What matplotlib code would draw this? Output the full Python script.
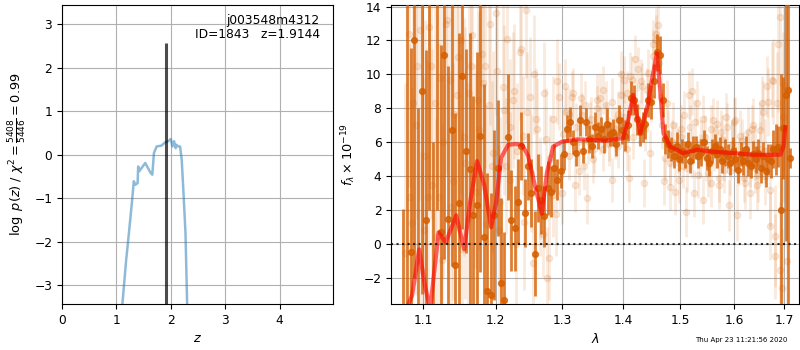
import matplotlib
matplotlib.use("Agg")
import matplotlib.pyplot as plt
from matplotlib.ticker import NullLocator

# ---------------- left panel: p(z) ----------------
z_grid = [1.11, 1.18, 1.23, 1.29, 1.32, 1.35, 1.39, 1.40, 1.42, 1.53, 1.63, 1.66,
          1.69, 1.74, 1.83, 1.89, 1.95, 2.00, 2.03, 2.06, 2.09, 2.10, 2.14, 2.17,
          2.20, 2.23, 2.27, 2.30]
log_pz = [-3.43, -2.41, -1.80, -1.03, -0.61, -0.69, -0.65, -0.27, -0.38, -0.19, -0.42, -0.46,
          0.04, 0.19, 0.21, 0.28, 0.31, 0.36, 0.19, 0.31, 0.15, 0.23, 0.19, 0.19,
          -0.11, -0.80, -1.80, -3.43]
z_best = 1.9144
z_line_top = 2.56
obj_name = "j003548m4312"
obj_id = 1843
chi2_num, chi2_den, chi2_ratio = 5408, 5446, 0.99

# ---------------- right panel: spectrum ----------------
lam_dark = [1.073, 1.078, 1.083, 1.088, 1.093, 1.098, 1.103, 1.108, 1.113, 1.118,
            1.123, 1.128, 1.133, 1.138, 1.143, 1.148, 1.153, 1.158, 1.163, 1.168,
            1.173, 1.178, 1.183, 1.188, 1.193, 1.198, 1.203, 1.208, 1.213, 1.218,
            1.223, 1.228, 1.233, 1.238, 1.243, 1.248, 1.253, 1.258, 1.263, 1.268,
            1.273, 1.278, 1.283, 1.288, 1.293, 1.298,
            1.303, 1.308, 1.313, 1.318, 1.323, 1.328, 1.333, 1.338, 1.343, 1.348,
            1.353, 1.358, 1.363, 1.368, 1.373, 1.378, 1.383, 1.388, 1.393, 1.398,
            1.403, 1.408, 1.413, 1.418, 1.423, 1.428, 1.433, 1.438, 1.443, 1.448,
            1.453, 1.458, 1.463, 1.468, 1.473,
            1.478, 1.483, 1.488, 1.493, 1.498, 1.503, 1.508, 1.513, 1.518, 1.523,
            1.528, 1.533, 1.538, 1.543, 1.548, 1.553, 1.558, 1.563, 1.568, 1.573,
            1.578, 1.583, 1.588, 1.593, 1.598, 1.603, 1.608, 1.613, 1.618, 1.623,
            1.628, 1.633, 1.638, 1.643, 1.648, 1.653, 1.658, 1.663, 1.668, 1.673,
            1.678,
            1.683, 1.688, 1.693, 1.698, 1.703, 1.708, 1.713]
flux_dark = [-6.0, -9.0, -0.45, 12.0, -7.0, 9.05, 1.44, 16.0, -5.0, 18.0,
             0.75, 11.15, 1.48, 6.74, -1.25, 2.42, 9.9, 5.5, 4.42, 1.72,
             2.32, 6.38, 0.42, -2.78, -2.97, 1.74, 4.5, -2.26, -3.26, 6.3,
             1.4, 0.95, 2.5, 5.8, 1.83, 4.58, 3.0, -0.56, 3.3, 2.6,
             1.64, 3.3, 3.1, 4.48, 3.8, 4.3,
             5.3, 6.8, 7.2, 6.0, 5.4, 7.3, 5.5, 7.2, 6.2, 5.8,
             6.9, 6.4, 6.8, 6.2, 7.1, 6.5, 6.6, 5.9, 7.3, 6.7,
             6.4, 7.0, 8.6, 8.5, 7.35, 6.6, 6.9, 7.1, 8.5, 8.4,
             9.6, 11.3, 11.15, 8.5, 6.2,
             5.9, 5.6, 5.2, 5.8, 5.0, 5.5, 5.3, 5.9, 4.9, 5.6,
             5.7, 5.2, 5.4, 6.0, 5.1, 4.8, 5.5, 5.8, 5.3, 5.6,
             4.9, 5.4, 5.2, 4.8, 5.5, 5.0, 4.4, 5.3, 4.9, 5.6,
             4.8, 4.6, 5.3, 5.0, 5.4, 4.5, 5.2, 4.3, 5.0, 4.9,
             5.6,
             5.6, 5.75, 2.0, 6.87, 8.8, 9.1, 5.07]
err_dark = [8.1, 25.0, 12.0, 14.0, 15.0, 12.0, 10.0, 14.0, 11.0, 16.0,
            11.0, 12.0, 9.0, 8.0, 9.0, 10.0, 9.0, 6.0, 8.0, 7.0,
            9.0, 8.0, 9.0, 7.0, 6.0, 5.0, 4.0, 5.0, 4.0, 3.7,
            3.0, 2.5, 2.5, 2.0, 2.0, 2.0, 2.0, 2.5, 2.0, 2.0,
            1.8, 1.6, 1.5, 1.4, 1.2, 1.0,
            0.9, 0.8, 0.9, 0.7, 0.8, 0.9, 0.7, 0.8, 0.8, 0.7,
            0.9, 0.8, 0.7, 0.8, 0.9, 0.7, 0.8, 0.7, 0.9, 0.8,
            0.9, 0.9, 1.0, 0.9, 0.9, 0.8, 0.9, 0.9, 1.0, 1.0,
            1.0, 1.1, 1.1, 1.0, 0.9,
            0.8, 0.7, 0.7, 0.8, 0.7, 0.7, 0.8, 0.7, 0.7, 0.8,
            0.7, 0.7, 0.8, 0.7, 0.7, 0.8, 0.7, 0.7, 0.8, 0.7,
            0.7, 0.8, 0.7, 0.7, 0.8, 0.7, 0.8, 0.7, 0.8, 0.8,
            0.8, 0.7, 0.8, 0.8, 0.8, 0.9, 0.8, 0.9, 0.9, 1.0,
            1.1,
            1.5, 1.2, 8.0, 3.0, 8.6, 13.0, 0.6]

# first light (unbinned) set
lam_light = [1.0755, 1.0805, 1.0855, 1.0905, 1.0955, 1.1005, 1.1055, 1.1105, 1.1155, 1.1205,
             1.1255, 1.1305, 1.1355, 1.1405, 1.1455, 1.1505, 1.1555, 1.1605, 1.1655, 1.1705,
             1.1755, 1.1805, 1.1855, 1.1905, 1.1955, 1.2005, 1.2055, 1.2105, 1.2155, 1.2205,
             1.2255, 1.2305, 1.2355, 1.2405, 1.2455, 1.2505, 1.2555, 1.2605, 1.2655, 1.2705,
             1.2755, 1.2805, 1.2855, 1.2905, 1.2955,
             1.3005, 1.3055, 1.3105, 1.3155, 1.3205, 1.3255, 1.3305, 1.3355, 1.3405, 1.3455,
             1.3505, 1.3555, 1.3605, 1.3655, 1.3705, 1.3755, 1.3805, 1.3855, 1.3905, 1.3955,
             1.4005, 1.4055, 1.4105, 1.4155, 1.4205, 1.4255, 1.4305, 1.4355, 1.4405, 1.4455,
             1.4505, 1.4555, 1.4605, 1.4655, 1.4705, 1.4755,
             1.4805, 1.4855, 1.4905, 1.4955, 1.5005, 1.5055, 1.5105, 1.5155, 1.5205, 1.5255,
             1.5305, 1.5355, 1.5405, 1.5455, 1.5505, 1.5555, 1.5605, 1.5655, 1.5705, 1.5755,
             1.5805, 1.5855, 1.5905, 1.5955, 1.6005, 1.6055, 1.6105, 1.6155, 1.6205, 1.6255,
             1.6305, 1.6355, 1.6405, 1.6455, 1.6505, 1.6555, 1.6605, 1.6655, 1.6705, 1.6755,
             1.6805, 1.6855, 1.6905, 1.6955, 1.7005, 1.7055]
flux_light = [-0.5, 12.4, 1.25, 7.0, 12.6, 0.86, 2.78, 10.5, 8.3, 2.78,
              -0.9, 13.0, 9.7, 3.7, 8.8, 12.0, 6.3, 1.5, 10.5, 4.6,
              8.5, 11.2, 10.5, 8.2, 4.6, 13.6, 0.85, 9.25, 4.6, 6.9,
              8.5, 0.0, 11.3, 6.4, 13.8, 8.7, -1.1, 7.4, 2.3, 0.6,
              6.2, -0.8, 7.4, 1.8, 8.7,
              3.0, 9.3, 7.7, 8.7, 3.5, 6.0, 8.6, 4.6, 2.7, 7.0,
              5.0, 8.5, 8.6, 5.6, 8.2, 6.2, 3.8, 6.8, 5.8, 10.0,
              9.7, 5.6, 3.9, 9.7, 10.9, 10.3, 9.6, 3.6, 9.1, 5.4,
              11.8, 12.4, 12.9, 8.7, 3.7, 8.3,
              3.4, 6.0, 3.1, 5.5, 6.8, 4.6, 1.9, 8.8, 9.0, 3.0,
              8.3, 5.2, 2.6, 6.3, 4.2, 3.6, 7.3, 5.8, 3.5, 6.6,
              4.4, 7.5, 2.3, 5.9, 7.2, 1.7, 4.9, 6.1, 3.9, 5.3,
              3.0, 6.8, 4.5, 3.5, 5.6, 8.3, 4.0, 9.3, 1.05, 9.7,
              -0.7, 8.3, 13.4, -2.6, 9.4, -1.0]
err_light = [10.0, 9.0, 8.0, 10.0, 10.0, 9.0, 8.0, 9.0, 8.0, 9.0,
             8.0, 9.0, 8.0, 7.0, 8.0, 9.0, 7.0, 8.0, 7.0, 6.0,
             7.0, 8.0, 6.0, 7.0, 5.0, 6.0, 5.0, 5.0, 4.0, 4.0,
             4.0, 4.0, 4.0, 3.5, 4.0, 3.5, 3.0, 3.0, 3.0, 2.5,
             3.0, 2.5, 2.5, 2.5, 2.0,
             1.8, 1.6, 1.5, 1.5, 1.6, 1.4, 1.5, 1.4, 1.5, 1.4,
             1.4, 1.5, 1.4, 1.3, 1.4, 1.3, 1.3, 1.3, 1.3, 1.4,
             1.4, 1.3, 1.4, 1.4, 1.4, 1.3, 1.3, 1.4, 1.3, 1.3,
             1.4, 1.5, 1.5, 1.4, 1.4, 1.4,
             1.4, 1.3, 1.4, 1.3, 1.4, 1.3, 1.5, 1.4, 1.4, 1.4,
             1.3, 1.3, 1.4, 1.3, 1.4, 1.4, 1.3, 1.3, 1.4, 1.3,
             1.4, 1.4, 1.5, 1.3, 1.4, 1.5, 1.4, 1.3, 1.4, 1.4,
             1.5, 1.4, 1.5, 1.5, 1.6, 1.6, 1.7, 1.8, 2.0, 2.2,
             2.5, 3.0, 4.0, 3.5, 5.0, 5.0]

# second light (unbinned) set
lam_light2 = [1.0818, 1.0868, 1.0918, 1.0968, 1.1018, 1.1068, 1.1118, 1.1168, 1.1218, 1.1268,
              1.1318, 1.1368, 1.1418, 1.1468, 1.1518, 1.1568, 1.1618, 1.1668, 1.1718, 1.1768,
              1.1818, 1.1868, 1.1918, 1.1968, 1.2018, 1.2068, 1.2118, 1.2168, 1.2218, 1.2268,
              1.2318, 1.2368, 1.2418, 1.2468, 1.2518, 1.2568, 1.2618, 1.2668, 1.2718, 1.2768,
              1.2818, 1.2868, 1.2918, 1.2968,
              1.3018, 1.3068, 1.3118, 1.3168, 1.3218, 1.3268, 1.3318, 1.3368, 1.3418, 1.3468,
              1.3518, 1.3568, 1.3618, 1.3668, 1.3718, 1.3768, 1.3818, 1.3868, 1.3918, 1.3968,
              1.4018, 1.4068, 1.4118, 1.4168, 1.4218, 1.4268, 1.4318, 1.4368, 1.4418, 1.4468,
              1.4518, 1.4568, 1.4618, 1.4668, 1.4718,
              1.4768, 1.4818, 1.4868, 1.4918, 1.4968, 1.5018, 1.5068, 1.5118, 1.5168, 1.5218,
              1.5268, 1.5318, 1.5368, 1.5418, 1.5468, 1.5518, 1.5568, 1.5618, 1.5668, 1.5718,
              1.5768, 1.5818, 1.5868, 1.5918, 1.5968, 1.6018, 1.6068, 1.6118, 1.6168, 1.6218,
              1.6268, 1.6318, 1.6368, 1.6418, 1.6468, 1.6518, 1.6568, 1.6618, 1.6668, 1.6718,
              1.6768, 1.6818, 1.6868, 1.6918, 1.6968]
flux_light2 = [2.8, 8.3, 10.5, -1.5, 5.2, 12.8, 3.5, 0.4, 9.8, 6.0,
               13.2, 2.2, 7.7, 11.0, -0.3, 4.8, 8.9, 12.3, 3.1, 6.7,
               9.5, 1.2, 13.0, 5.4, 10.2, 2.5, 7.9, 12.1, 3.8, 9.0,
               5.5, 11.5, 1.3, 7.8, 4.2, 10.0, 6.8, 3.3, 8.9, -2.0,
               5.1, 2.9, 9.6, 4.0,
               6.5, 7.8, 5.2, 8.9, 6.9, 4.3, 7.6, 8.2, 6.1, 7.4,
               5.6, 8.0, 6.7, 9.1, 7.0, 5.9, 8.4, 6.3, 7.7, 8.8,
               7.5, 8.9, 9.9, 6.3, 8.1, 7.2, 9.3, 6.8, 10.1, 8.6,
               11.1, 12.0, 10.7, 7.0, 5.1,
               6.5, 4.8, 7.0, 5.9, 3.8, 6.3, 7.6, 4.5, 6.9, 5.3,
               7.2, 4.1, 6.0, 7.4, 5.1, 4.7, 6.8, 5.6, 7.1, 3.9,
               6.2, 5.0, 6.9, 4.3, 5.8, 7.3, 4.6, 6.4, 5.2, 3.6,
               6.6, 4.9, 7.0, 5.4, 4.1, 6.7, 7.8, 5.5, 8.4, 3.2,
               9.6, 0.5, 11.8, -1.5, 7.5]
err_light2 = [9.0, 8.0, 9.0, 7.0, 8.0, 9.0, 8.0, 7.0, 9.0, 8.0,
              9.0, 8.0, 8.0, 9.0, 7.0, 8.0, 8.0, 9.0, 7.0, 7.0,
              6.0, 7.0, 6.0, 6.0, 5.0, 5.0, 5.0, 5.0, 4.0, 4.0,
              4.0, 4.0, 4.0, 3.5, 3.5, 3.5, 3.0, 3.0, 3.0, 3.0,
              2.5, 2.5, 2.5, 2.0,
              1.5, 1.4, 1.4, 1.5, 1.4, 1.4, 1.3, 1.4, 1.4, 1.3,
              1.4, 1.3, 1.4, 1.4, 1.3, 1.3, 1.4, 1.3, 1.3, 1.4,
              1.4, 1.3, 1.4, 1.3, 1.4, 1.3, 1.4, 1.3, 1.4, 1.4,
              1.5, 1.5, 1.5, 1.4, 1.4,
              1.4, 1.3, 1.4, 1.3, 1.4, 1.3, 1.4, 1.4, 1.3, 1.4,
              1.3, 1.4, 1.3, 1.4, 1.4, 1.3, 1.4, 1.3, 1.4, 1.4,
              1.4, 1.3, 1.4, 1.4, 1.5, 1.4, 1.4, 1.5, 1.4, 1.5,
              1.5, 1.5, 1.6, 1.6, 1.6, 1.7, 1.8, 1.9, 2.0, 2.2,
              2.5, 3.0, 4.0, 4.0, 5.0]

lam_model = [1.0760, 1.0851, 1.0943, 1.1022, 1.1089, 1.1203, 1.1299, 1.1443, 1.1554, 1.1638,
             1.1736, 1.1836, 1.1936, 1.2009, 1.2081, 1.2184, 1.2287, 1.2391, 1.2482, 1.2587,
             1.2689, 1.2767, 1.2864, 1.3000, 1.3258, 1.3697, 1.3998, 1.4082, 1.4168, 1.4288,
             1.4427, 1.4497, 1.4580, 1.4638, 1.4696, 1.4815, 1.5049, 1.5306, 1.5604, 1.5985,
             1.6375, 1.6920, 1.6987, 1.7022]
flux_model = [-4.0, -3.0, -0.3, -2.5, -3.8, 0.7, 0.1, 1.7, -0.3, 2.5,
              4.9, 3.5, 1.0, 2.5, 5.1, 5.85, 5.9, 5.85, 5.2, 3.4,
              1.8, 4.2, 5.75, 6.04, 6.18, 6.1, 6.25, 7.3, 8.8, 6.55,
              8.3, 9.8, 11.25, 9.0, 6.55, 5.75, 5.37, 5.56, 5.45, 5.37,
              5.27, 5.27, 5.75, 6.9]

x_ticks = [1.1, 1.2, 1.3, 1.4, 1.5, 1.6, 1.7]
x_tick_labels = ["1.1", "1.2", "1.3", "1.4", "1.5", "1.6", "1.7"]
timestamp = "Thu Apr 23 11:21:56 2020"

G141 = (0.8352941176470589, 0.3686274509803922, 0.0)
FS = 8.8

fig = plt.figure(figsize=(8, 3.5), dpi=100)
ax1 = fig.add_axes([0.0775, 0.1314, 0.339, 0.8543])
ax2 = fig.add_axes([0.489, 0.1314, 0.510, 0.8543])

# left
ax1.plot(z_grid, log_pz, color="tab:blue", alpha=0.5, lw=1.8)
ax1.vlines(z_best, -3.43, z_line_top, color="k", alpha=0.7, lw=2.2)
ax1.set_xlim(0, 4.985)
ax1.set_ylim(-3.43, 3.44)
ax1.set_xticks([0, 1, 2, 3, 4])
ax1.set_yticks([-3, -2, -1, 0, 1, 2, 3])
ax1.grid(True)
ax1.tick_params(labelsize=FS)
ax1.set_xlabel(r"$z$", fontsize=FS + 0.5)
ax1.set_ylabel(r"$\log\ p(z)$" + " / " +
               r"$\chi^2=\frac{%d}{%d}=%.2f$" % (chi2_num, chi2_den, chi2_ratio),
               fontsize=FS + 0.5)
ax1.text(0.95, 0.97, "%s\nID=%d   z=%.4f" % (obj_name, obj_id, z_best),
         transform=ax1.transAxes, ha="right", va="top", fontsize=FS, linespacing=1.1)

# right
for lam_l, flux_l, err_l in ((lam_light, flux_light, err_light),
                             (lam_light2, flux_light2, err_light2)):
    ax2.errorbar(lam_l, flux_l, yerr=err_l, fmt="o", color=G141,
                 alpha=0.13, ms=4.5, elinewidth=2, capsize=0, zorder=2)
ax2.errorbar(lam_dark, flux_dark, yerr=err_dark, fmt="o", color=G141,
             alpha=0.8, ms=4.2, elinewidth=2, capsize=0, zorder=3)
ax2.plot(lam_model, flux_model, color="r", alpha=0.6, lw=3, zorder=4)
ax2.axhline(0, color="k", ls=":", lw=1.5, alpha=0.8, zorder=5)
ax2.set_xscale("log")
ax2.set_xlim(1.0580, 1.7311)
ax2.set_ylim(-3.52, 14.09)
ax2.set_xticks(x_ticks)
ax2.set_xticklabels(x_tick_labels)
ax2.xaxis.set_minor_locator(NullLocator())
ax2.set_yticks([-2, 0, 2, 4, 6, 8, 10, 12, 14])
ax2.grid(True)
ax2.tick_params(labelsize=FS)
ax2.set_xlabel(r"$\lambda$", fontsize=FS + 0.5)
ax2.set_ylabel(r"$f_\lambda\times10^{-19}$", fontsize=FS + 0.5)

fig.text(0.984, 0.028, timestamp, ha="right", va="center", fontsize=5)

fig.savefig("out.png", dpi=100)
